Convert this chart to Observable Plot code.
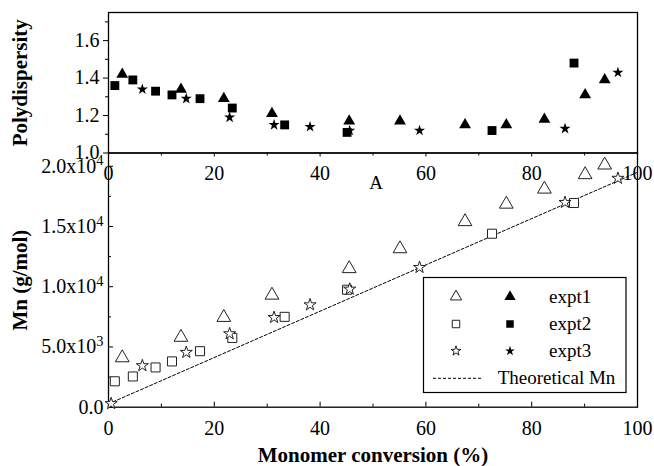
<!DOCTYPE html>
<html><head><meta charset="utf-8">
<script src="https://cdn.jsdelivr.net/npm/d3@7"></script>
<script src="https://cdn.jsdelivr.net/npm/@observablehq/plot@0.6"></script>
<style>
body{margin:0;background:#fff;}
#chart{position:relative;width:654px;height:466px;}
#chart svg{position:absolute;left:0;top:0;}
</style></head><body><div id="chart"></div>
<script>
// ---- data ----
const conv1 = [2.6, 13.7, 21.8, 30.9, 45.5, 55.1, 67.4, 75.2, 82.4, 90.1, 93.8];
const pdi1  = [1.42, 1.34, 1.29, 1.21, 1.17, 1.17, 1.15, 1.15, 1.18, 1.31, 1.39];
const mn1   = [4100, 5800, 7450, 9300, 11500, 13150, 15400, 16850, 18100, 19300, 20100];

const conv2 = [1.2, 4.6, 8.9, 12.0, 17.3, 23.4, 33.3, 45.1, 72.5, 88.0];
const pdi2  = [1.36, 1.39, 1.33, 1.31, 1.29, 1.24, 1.15, 1.11, 1.12, 1.48];
const mn2   = [2150, 2550, 3300, 3800, 4650, 5750, 7500, 9750, 14400, 16950];

const conv3Pdi = [6.4, 14.7, 22.9, 31.3, 38.1, 45.6, 58.8, 86.3, 96.3];
const pdi3     = [1.34, 1.29, 1.19, 1.15, 1.14, 1.12, 1.12, 1.13, 1.43];
const conv3Mn  = [0.5, 6.4, 14.7, 22.9, 31.3, 38.1, 45.6, 58.8, 86.3, 96.3];
const mn3      = [300, 3450, 4550, 6100, 7450, 8500, 9800, 11600, 17000, 19000];

const theoryConv = [0, 100];
const theoryMn   = [280, 19500];

const xTicks = [0, 20, 40, 60, 80, 100];
const xMinorTicks = [10, 30, 50, 70, 90];
const pdiTicks = [1.0, 1.2, 1.4, 1.6];
const pdiMinorTicks = [1.1, 1.3, 1.5, 1.7];
const mnTicks = [0, 5000, 10000, 15000, 20000];
const mnTickLabels = ["0.0", "5.0x10^3", "1.0x10^4", "1.5x10^4", "2.0x10^4"];
const mnMinorTicks = [2500, 7500, 12500, 17500];
const legendLabels = ["expt1", "expt2", "expt3", "Theoretical Mn"];
const legendSymbols = ["triangle", "square", "star"];

const pts = (xs, ys) => xs.map((x, i) => ({x, y: ys[i]}));
const FONT = "'Liberation Serif', 'Times New Roman', serif";

// ---- bottom panel (Mn) ----
const bottom = Plot.plot({
  width: 654, height: 466,
  marginLeft: 108, marginRight: 17, marginTop: 152.5, marginBottom: 59.3,
  style: {background: "transparent", fontFamily: FONT, fontSize: "20px", color: "black"},
  x: {domain: [0, 100]},
  y: {domain: [0, 21100]},
  marks: [
    Plot.frame({stroke: "black", strokeWidth: 1.3}),
    Plot.axisX({ticks: xTicks, tickSize: 5, dy: -5, fill: null, label: null}),
    Plot.axisX({ticks: xMinorTicks, tickSize: 3, dy: -3, fill: null, label: null}),
    Plot.axisX({ticks: xTicks, tickSize: 0, tickPadding: 14, tickFormat: d3.format("d"), label: null}),
    Plot.axisY({ticks: mnTicks, tickSize: 5, dx: 5, fill: null, label: null}),
    Plot.axisY({ticks: mnMinorTicks, tickSize: 3, dx: 3, fill: null, label: null}),
    Plot.axisY({ticks: mnTicks, tickSize: 0, tickPadding: 5, tickFormat: d => mnTickLabels[mnTicks.indexOf(d)], label: null}),
    Plot.line(pts(theoryConv, theoryMn), {x: "x", y: "y", stroke: "black", strokeWidth: 1, strokeDasharray: "3,2"}),
    Plot.dot(pts(conv2, mn2), {x: "x", y: "y", symbol: "square", r: 5.1, fill: "white", stroke: "#222", strokeWidth: 1}),
    Plot.dot(pts(conv1, mn1), {x: "x", y: "y", symbol: "triangle", r: 5.1, fill: "white", stroke: "#222", strokeWidth: 1}),
    Plot.dot(pts(conv3Mn, mn3), {x: "x", y: "y", symbol: "star", r: 3.8, fill: "white", stroke: "#222", strokeWidth: 1}),
    Plot.text(["A"], {frameAnchor: "top", dx: 3, dy: 30, lineAnchor: "middle", textAnchor: "middle", fontSize: 19}),
    Plot.text(["Mn (g/mol)"], {frameAnchor: "left", dx: -88, rotate: -90, textAnchor: "middle", lineAnchor: "middle", fontWeight: "bold", fontSize: 21}),
    Plot.text(["Monomer conversion (%)"], {frameAnchor: "bottom", dy: 48, textAnchor: "middle", lineAnchor: "middle", fontWeight: "bold", fontSize: 21})
  ]
});

// ---- top panel (polydispersity) ----
const topPlot = Plot.plot({
  width: 654, height: 190,
  marginLeft: 108, marginRight: 17, marginTop: 12, marginBottom: 37.5,
  style: {background: "transparent", fontFamily: FONT, fontSize: "20px", color: "black", overflow: "visible"},
  x: {domain: [0, 100]},
  y: {domain: [1.0, 1.75]},
  marks: [
    Plot.frame({stroke: "black", strokeWidth: 1.3}),
    Plot.axisX({ticks: xTicks, tickSize: 4, tickPadding: 9, tickFormat: d3.format("d"), label: null}),
    Plot.axisX({ticks: xMinorTicks, tickSize: 3, fill: null, label: null}),
    Plot.axisY({ticks: pdiTicks, tickSize: 5, tickPadding: 4, tickFormat: d3.format(".1f"), label: null}),
    Plot.axisY({ticks: pdiMinorTicks, tickSize: 3, fill: null, label: null}),
    Plot.dot(pts(conv2, pdi2), {x: "x", y: "y", symbol: "square", r: 5.0, fill: "black", stroke: "none"}),
    Plot.dot(pts(conv3Pdi, pdi3), {x: "x", y: "y", symbol: "star", r: 3.5, fill: "black", stroke: "none"}),
    Plot.dot(pts(conv1, pdi1), {x: "x", y: "y", symbol: "triangle", r: 4.4, fill: "black", stroke: "none"}),
    Plot.text(["Polydispersity"], {frameAnchor: "left", dx: -88, rotate: -90, textAnchor: "middle", lineAnchor: "middle", fontWeight: "bold", fontSize: 21})
  ]
});

const chart = document.getElementById("chart");
chart.appendChild(bottom);
chart.appendChild(topPlot);

// superscripts on the Mn tick labels
d3.select(bottom).selectAll('g[aria-label="y-axis tick label"] text').each(function() {
  const s = this.textContent;
  const k = s.indexOf("^");
  if (k < 0) return;
  const t = d3.select(this);
  t.text(null);
  t.append("tspan").text(s.slice(0, k));
  t.append("tspan").attr("dy", "-0.5em").attr("font-size", "0.72em").text(s.slice(k + 1));
});

// legend box
const lg = d3.select(bottom).append("g").attr("font-family", FONT).attr("font-size", 19).attr("text-anchor", "start");
lg.append("rect").attr("x", 423.5).attr("y", 277.5).attr("width", 202.5).attr("height", 115)
  .attr("fill", "white").attr("stroke", "black").attr("stroke-width", 1.2);
const rowY = [296.7, 324, 351, 378.3];
const legendSize = {triangle: 55, square: 56, star: 30};
const symMap = {triangle: d3.symbolTriangle, square: d3.symbolSquare, star: d3.symbolStar};
legendSymbols.forEach((s, i) => {
  const path = d3.symbol(symMap[s], legendSize[s])();
  lg.append("path").attr("d", path).attr("transform", `translate(456,${rowY[i]})`)
    .attr("fill", "white").attr("stroke", "#222").attr("stroke-width", 1);
  lg.append("path").attr("d", path).attr("transform", `translate(510,${rowY[i]})`)
    .attr("fill", "black");
  lg.append("text").attr("x", 549).attr("y", rowY[i]).attr("dy", "0.32em").attr("text-anchor", "start").text(legendLabels[i]);
});
lg.append("line").attr("x1", 433).attr("x2", 483).attr("y1", rowY[3]).attr("y2", rowY[3])
  .attr("stroke", "black").attr("stroke-dasharray", "3,2");
lg.append("text").attr("x", 497.7).attr("y", rowY[3]).attr("dy", "0.32em").attr("text-anchor", "start").text(legendLabels[3]);
</script></body></html>
